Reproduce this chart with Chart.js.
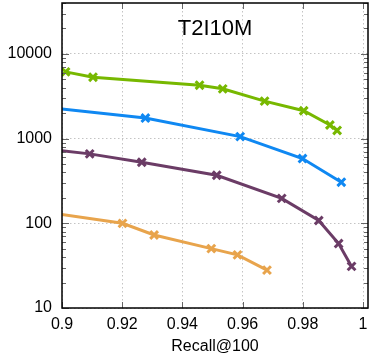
<!DOCTYPE html>
<html>
<head>
<meta charset="utf-8">
<script src="https://cdn.jsdelivr.net/npm/chart.js@4/dist/chart.umd.min.js"></script>
<style>
  html, body { margin: 0; padding: 0; background: #fff; }
  #wrap { width: 370px; height: 358px; }
</style>
</head>
<body>
<div id="wrap"><canvas id="qpsChart" width="370" height="358"></canvas></div>
<script>
// Values (recall on x, queries/sec on log y)
const greenRecall  = [0.9012, 0.9103, 0.9457, 0.9534, 0.9673, 0.9803, 0.9890, 0.9914];
const greenQps     = [6150, 5320, 4280, 3875, 2775, 2135, 1450, 1250];
const blueRecall   = [0.8900, 0.9277, 0.9592, 0.9799, 0.9928];
const blueQps      = [2450, 1750, 1056, 582, 306];
const purpleRecall = [0.8900, 0.9092, 0.9265, 0.9514, 0.9730, 0.9853, 0.9919, 0.9962];
const purpleQps    = [790, 661, 526, 370, 197, 108, 57.7, 31];
const orangeRecall = [0.8900, 0.9201, 0.9306, 0.9496, 0.9583, 0.9681];
const orangeQps    = [143, 100, 72.8, 50.3, 42.4, 28];

const xTicks = [0.9, 0.92, 0.94, 0.96, 0.98, 1.0];
const yTicks = [10, 100, 1000, 10000];
const chartTitle = "T2I10M";
const xTitle = "Recall@100";

const FONT = "'Liberation Sans', Arial, Helvetica, sans-serif";

function toPoints(xs, ys) {
    return xs.map((x, i) => ({ x: x, y: ys[i] }));
}

function makeSeries(xs, ys, color) {
    return {
        data: toPoints(xs, ys),
        borderColor: color,
        backgroundColor: color,
        borderWidth: 3,
        pointStyle: 'crossRot',
        pointRadius: 5.5,
        pointBorderWidth: 3,
        pointHoverRadius: 5.5,
        tension: 0,
        clip: 0
    };
}

// no extra room for end labels, the plot box is fixed by layout padding
function noPadding(s) {
    s.paddingLeft = s.paddingRight = s.paddingTop = s.paddingBottom = 0;
}

// frame, inward ticks (gnuplot style) and the title inside the plot
const framePlugin = {
    id: 'frame',
    afterDraw(chart) {
        const ctx = chart.ctx;
        const a = chart.chartArea;
        const xs = chart.scales.x;
        const ys = chart.scales.y;
        ctx.save();

        // ticks
        ctx.strokeStyle = '#666';
        ctx.lineWidth = 1;
        ctx.beginPath();
        xTicks.forEach(v => {
            const px = Math.round(xs.getPixelForValue(v)) + 0.5;
            ctx.moveTo(px, a.bottom); ctx.lineTo(px, a.bottom - 6);
            ctx.moveTo(px, a.top); ctx.lineTo(px, a.top + 6);
        });
        for (let d = 10; d < 100000; d *= 10) {
            for (let m = 1; m <= 9; m++) {
                const v = d * m;
                if (v < ys.min || v > ys.max) continue;
                const py = Math.round(ys.getPixelForValue(v)) + 0.5;
                const len = m === 1 ? 7 : 4;
                ctx.moveTo(a.left, py); ctx.lineTo(a.left + len, py);
                ctx.moveTo(a.right, py); ctx.lineTo(a.right - len, py);
            }
        }
        ctx.stroke();

        // frame
        ctx.strokeStyle = '#000';
        ctx.lineWidth = 1.5;
        ctx.strokeRect(a.left, a.top, a.right - a.left, a.bottom - a.top);

        // title
        ctx.fillStyle = '#000';
        ctx.font = '22px ' + FONT;
        ctx.textAlign = 'center';
        ctx.textBaseline = 'alphabetic';
        ctx.fillText(chartTitle, (a.left + a.right) / 2, a.top + 32);
        ctx.restore();
    }
};

const ctx = document.getElementById('qpsChart').getContext('2d');
const chart = new Chart(ctx, {
    type: 'line',
    data: {
        datasets: [
            makeSeries(greenRecall, greenQps, '#77b800'),
            makeSeries(blueRecall, blueQps, '#0f88f2'),
            makeSeries(purpleRecall, purpleQps, '#6b3c66'),
            makeSeries(orangeRecall, orangeQps, '#e8a44c')
        ]
    },
    options: {
        responsive: false,
        animation: false,
        events: [],
        layout: { autoPadding: false, padding: { top: 3, right: 2, left: 0, bottom: 0 } },
        plugins: {
            legend: { display: false },
            tooltip: { enabled: false },
            title: { display: false }
        },
        scales: {
            x: {
                type: 'linear',
                min: 0.9,
                max: 1.00166,
                afterBuildTicks: s => { s.ticks = xTicks.map(v => ({ value: v })); },
                afterFit: s => {
                    s.height = 50;
                    noPadding(s);
                },
                ticks: {
                    color: '#000',
                    font: { family: FONT, size: 16 },
                    padding: 7,
                    maxRotation: 0,
                    autoSkip: false,
                    callback: v => String(Number(v.toFixed(2)))
                },
                grid: { color: '#c4c4c4', lineWidth: 1, drawTicks: false },
                border: { display: false, dash: [1.5, 2.5] },
                title: {
                    display: true,
                    text: xTitle,
                    color: '#000',
                    font: { family: FONT, size: 16 },
                    padding: { top: 0, bottom: 2 }
                }
            },
            y: {
                type: 'logarithmic',
                min: 10,
                max: 40000,
                afterBuildTicks: s => { s.ticks = yTicks.map(v => ({ value: v })); },
                afterFit: s => {
                    s.width = 62;
                    noPadding(s);
                },
                ticks: {
                    color: '#000',
                    font: { family: FONT, size: 16 },
                    padding: 10,
                    autoSkip: false,
                    callback: v => String(v)
                },
                grid: { color: '#c4c4c4', lineWidth: 1, drawTicks: false },
                border: { display: false, dash: [1.5, 2.5] }
            }
        }
    },
    plugins: [framePlugin]
});
</script>
</body>
</html>
